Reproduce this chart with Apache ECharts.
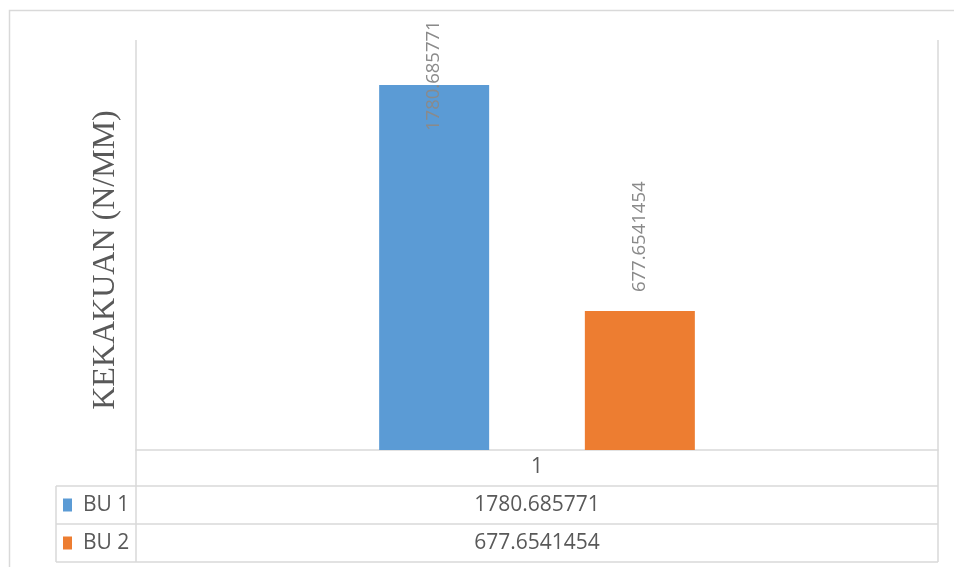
<!DOCTYPE html>
<html>
<head>
<meta charset="utf-8">
<style>
  html, body { margin: 0; padding: 0; background: #ffffff; }
  #chart { width: 954px; height: 567px; }
</style>
<script src="https://cdn.jsdelivr.net/npm/echarts@6/dist/echarts.min.js"></script>
</head>
<body>
<div id="chart"></div>
<script>
// Stiffness per specimen
const categories = ['1'];
const seriesNames = ['BU 1', 'BU 2'];
const seriesValues = [[1780.685771], [677.6541454]];
const seriesColors = ['#5b9bd5', '#ed7d31'];
const axisTitle = 'KEKAKUAN (N/MM)';
const yMin = 0;
const yMax = 2000;

const lineColor = '#d9d9d9';
const textColor = '#595959';
const tableFont = '"Open Sans", "Noto Sans", sans-serif';

const chart = echarts.init(document.getElementById('chart'), null, { renderer: 'canvas' });

// Grid frame (pixels)
const gx0 = 136, gx1 = 938, gy0 = 40, gy1 = 450;
// Data table below the plot
const tableLeft = 56;
const rowTops = [486, 524, 562];
const rowCenters = [505, 543];

const graphics = [];
// outer chart border
graphics.push({
  type: 'rect', silent: true,
  shape: { x: 9.5, y: 10.5, width: 980, height: 600 },
  style: { fill: 'none', stroke: lineColor, lineWidth: 1.5 }
});
// vertical frame lines of plot + table
[gx0, gx1].forEach(x => graphics.push({
  type: 'line', silent: true,
  shape: { x1: x, y1: gy0, x2: x, y2: rowTops[2] },
  style: { stroke: lineColor, lineWidth: 1.5 }
}));
graphics.push({
  type: 'line', silent: true,
  shape: { x1: tableLeft, y1: rowTops[0], x2: tableLeft, y2: rowTops[2] },
  style: { stroke: lineColor, lineWidth: 1.5 }
});
rowTops.forEach(y => graphics.push({
  type: 'line', silent: true,
  shape: { x1: tableLeft, y1: y, x2: gx1, y2: y },
  style: { stroke: lineColor, lineWidth: 1.5 }
}));
// table rows: legend key, series name, value
seriesNames.forEach((name, i) => {
  const cy = rowCenters[i];
  graphics.push({
    type: 'rect', silent: true,
    shape: { x: 63, y: cy - 6.5, width: 9, height: 13 },
    style: { fill: seriesColors[i] }
  });
  graphics.push({
    type: 'text', silent: true, x: 83, y: cy,
    style: { text: name, font: '21px ' + tableFont, fill: textColor, align: 'left', verticalAlign: 'middle' }
  });
  graphics.push({
    type: 'text', silent: true, x: (gx0 + gx1) / 2, y: cy,
    style: { text: String(seriesValues[i][0]), font: '21px ' + tableFont, fill: textColor, align: 'center', verticalAlign: 'middle' }
  });
});
// vertical axis title
graphics.push({
  type: 'text', silent: true, x: 106, y: 260, rotation: Math.PI / 2,
  style: { text: axisTitle, font: '32px "Liberation Serif", "Times New Roman", serif', fill: textColor, align: 'center', verticalAlign: 'middle' }
});
// text box inside the first bar
graphics.push({
  type: 'text', silent: true, x: 446, y: 285,
  style: { text: seriesNames[0], font: '20px "Liberation Serif", "Times New Roman", serif', fill: '#000000', align: 'center', verticalAlign: 'middle' }
});

const valueLabel = {
  show: true,
  position: 'top',
  distance: 19,
  rotate: 90,
  align: 'left',
  verticalAlign: 'middle',
  color: '#8a8a8a',
  fontFamily: tableFont,
  fontSize: 18.5,
  formatter: p => String(p.value)
};

const series = seriesNames.map((name, i) => ({
  name: name,
  type: 'bar',
  barWidth: 110,
  barGap: '87%',
  itemStyle: { color: seriesColors[i] },
  label: valueLabel,
  data: seriesValues[i].map(v => {
    // the tall bar's label would leave the plot, keep it inside the bar top
    if (i === 0) {
      return { value: v, label: { position: 'insideTop', distance: 46 } };
    }
    return v;
  })
}));

chart.setOption({
  animation: false,
  backgroundColor: '#ffffff',
  grid: { left: gx0, right: 954 - gx1, top: gy0, bottom: 567 - gy1, containLabel: false },
  xAxis: {
    type: 'category',
    data: categories,
    axisLine: { show: true, lineStyle: { color: lineColor, width: 1.5 } },
    axisTick: { show: false },
    splitLine: { show: false },
    axisLabel: { color: textColor, fontFamily: tableFont, fontSize: 21, margin: 7 }
  },
  yAxis: {
    type: 'value',
    min: yMin,
    max: yMax,
    axisLine: { show: false },
    axisTick: { show: false },
    axisLabel: { show: false },
    splitLine: { show: false }
  },
  series: series,
  graphic: graphics
});
</script>
</body>
</html>
